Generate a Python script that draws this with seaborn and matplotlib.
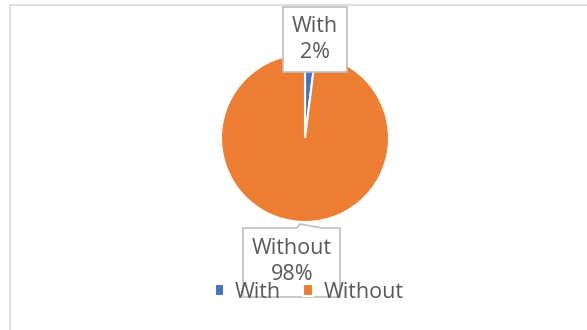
import matplotlib
matplotlib.use("Agg")
import matplotlib.pyplot as plt
import seaborn as sns
from matplotlib.patches import Rectangle, Polygon

categories = ["With", "Without"]
values = [2, 98]
pct_labels = ["2%", "98%"]

sns.set_style("white")
plt.rcParams['font.family'] = ['Open Sans', 'DejaVu Sans']
colors = ["#4472C4", "#ED7D31"]
txt = "#595959"

W, H = 587, 330
fig = plt.figure(figsize=(W / 100, H / 100), dpi=100)
ax = fig.add_axes([0, 0, 1, 1])

wedges, _ = ax.pie(values, colors=colors, startangle=90, counterclock=False,
                   center=(305, H - 138), radius=84, frame=True,
                   wedgeprops=dict(edgecolor="white", linewidth=1.5))
ax.set_xlim(0, W)
ax.set_ylim(0, H)
ax.set_aspect("auto")
ax.axis("off")

# outer chart frame
ax.add_patch(Rectangle((10, -10), W, H - 5 + 10, fill=False, edgecolor="#d9d9d9", lw=1.2))

# label boxes
ax.add_patch(Rectangle((283, H - 72), 64, 65, facecolor="white", edgecolor="#bfbfbf", lw=1.2, zorder=3))
ax.add_patch(Polygon([(243, H - 297), (243, H - 228), (297, H - 228), (300, H - 224),
                      (322, H - 228), (340, H - 228), (340, H - 297)], closed=True,
                     facecolor="white", edgecolor="#bfbfbf", lw=1.2, zorder=3))

fs = 15.5
ax.text(315, H - 27, categories[0], ha="center", va="center", fontsize=fs, color=txt, zorder=4)
ax.text(315, H - 53, pct_labels[0], ha="center", va="center", fontsize=fs, color=txt, zorder=4)
ax.text(292, H - 248, categories[1], ha="center", va="center", fontsize=fs, color=txt, zorder=4)
ax.text(292, H - 275, pct_labels[1], ha="center", va="center", fontsize=fs, color=txt, zorder=4)

leg = ax.legend(wedges, categories, loc="center", bbox_to_anchor=(309 / W, 1 - 292 / H),
                ncol=2, frameon=False, fontsize=fs, handlelength=0.45, handleheight=0.45,
                handletextpad=0.5, columnspacing=1.0, labelcolor=txt)
leg.set_zorder(5)

fig.savefig("out.png", dpi=100)
